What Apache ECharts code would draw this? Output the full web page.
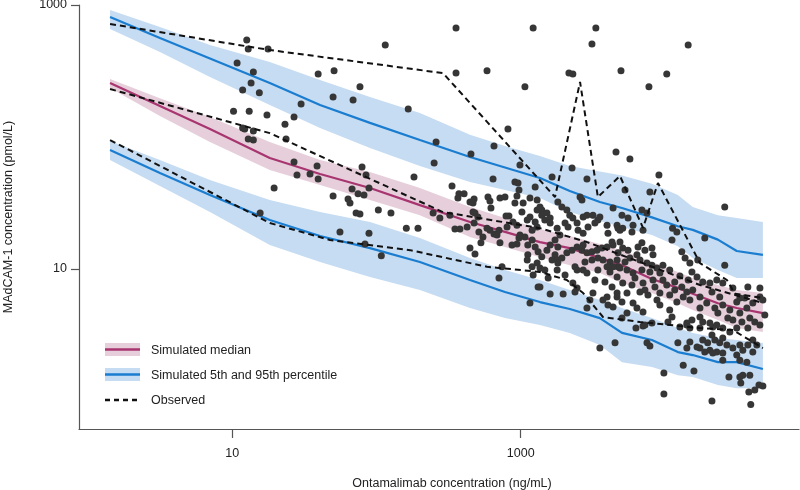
<!DOCTYPE html>
<html><head><meta charset="utf-8">
<script src="https://cdn.jsdelivr.net/npm/echarts@6/dist/echarts.min.js"></script>
<style>html,body{margin:0;padding:0;background:#fff}#c{width:800px;height:490px}</style>
</head><body><div id="c"></div>
<script>
// ---- simulated percentiles (ng/mL vs pmol/L) ----
const simX    = [1.42, 3.15, 7.0, 18.2, 40.6, 90.1, 200, 445, 778, 1360, 2190, 3540, 5040, 8130, 12300, 15600, 23300, 31500, 47800];
const simP95  = [811, 562, 393, 257, 175, 128, 94.9, 70.5, 58.7, 48.9, 39.0, 32.2, 29.0, 24.6, 21.1, 19.8, 16.7, 13.7, 12.8];
const simP95Hi= [916, 681, 498, 370, 270, 201, 152, 104, 85.5, 71.8, 60.3, 54.9, 51.0, 44.3, 36.4, 29.5, 25.6, 24.3, 22.7];
const simP95Lo= [658, 441, 285, 175, 117, 82.6, 60.3, 45.6, 39.7, 34.5, 27.0, 23.1, 20.8, 18.1, 14.9, 12.1, 9.83, 8.55, 8.55];
const simP50  = [257, 172, 115, 69.3, 52.5, 41.1, 30.5, 22.7, 19.1, 16.0, 14.4, 12.1, 10.7, 8.4, 7.2, 6.5, 5.5, 5.07, 4.64];
const simP50Hi= [275, 197, 142, 91.6, 67, 54.3, 41.1, 29.5, 24.3, 20.1, 17.8, 15.5, 13.9, 11.3, 9.49, 8.55, 7.56, 6.93, 6.58];
const simP50Lo= [235, 144, 91.6, 56.2, 43.3, 33.3, 25.6, 17.5, 14.7, 12.3, 10.7, 9.33, 7.83, 6.58, 5.5, 4.89, 4.11, 3.57, 3.33];
const simP5   = [79.7, 53.4, 36.4, 23.5, 17.8, 14.4, 11.3, 8.26, 6.7, 5.62, 4.98, 4.25, 3.28, 2.9, 2.35, 2.23, 1.97, 1.97, 1.75];
const simP5Hi = [93.3, 67, 47.2, 33.3, 27, 22.7, 17.2, 12.1, 9.83, 8.26, 6.93, 5.82, 5.07, 4.25, 3.57, 3.28, 3.0, 2.9, 2.75];
const simP5Lo = [67, 42.6, 27, 15.2, 11.3, 8.7, 6.93, 5.07, 4.25, 3.76, 3.28, 2.66, 1.97, 1.81, 1.57, 1.52, 1.32, 1.25, 1.25];

// ---- observed percentiles ----
const obsHiX = [1.42, 18.2, 289, 1730, 2580, 3430, 4880, 7050, 8950, 17500, 26900, 30600, 47800];
const obsHiY = [718, 456, 305, 35.1, 261, 35.1, 50.7, 20.5, 44.8, 11.1, 8.26, 6.5, 6.03];
const obsMedX = [1.42, 18.2, 289, 1360, 2880, 6710, 17500, 47800];
const obsMedY = [231, 107, 27.0, 20.4, 16.0, 11.3, 7.57, 5.53];
const obsLoX = [1.42, 18.2, 47.6, 171, 584, 1360, 2090, 2710, 3720, 6710, 17500, 29600, 47800];
const obsLoY = [94.9, 22.3, 16.6, 13.9, 10.4, 9.5, 8.26, 6.58, 4.33, 3.97, 3.57, 3.45, 2.52];

// ---- observed individual points ----
const ptsX = [12.6,12.9,17.7,10.8,14.0,13.5,11.8,15.4,10.2,13.1,
17.4,11.8,12.2,14.0,12.9,14.0,356,1220,115,39.4,
50.8,356,584,76.8,1070,50.0,68.8,30.0,166,26.8,
23.2,816,259,653,452,23.6,3320,3120,14500,2160,
2300,4960,10300,7750,4580,5720,15.6,26.8,38.7,79.4,
84.6,28.1,34.6,39.4,19.5,182,251,88.7,67.7,74.5,
81.9,50.0,63.5,65.5,103,72.2,76.8,126,334,373,
405,367,445,475,467,593,612,718,778,622,
912,942,973,912,958,643,988,247,275,323,
350,379,425,482,505,475,513,547,530,612,
653,707,685,718,829,791,884,942,973,870,
942,161,194,55.8,88.7,83.2,108,482,707,742,
1160,1320,1220,1120,1110,1300,1160,1260,1300,1200,
1110,1300,1300,1260,1040,1020,1160,988,1070,1120,
1200,1260,1320,1200,584,804,445,467,1650,2880,
2580,4370,3430,1360,1400,1400,1520,1470,1600,1600,
1810,1930,2090,2190,2300,2460,1790,2030,2130,2710,
2880,3170,3540,3270,2930,2710,2500,3970,4030,4660,
1400,1520,1600,1730,1810,1730,1650,1810,1930,2090,
2270,2460,2660,2710,2880,3120,3380,3660,3970,4370,
2790,3120,3430,3720,4160,4660,4730,1360,1470,1790,
1810,2380,2460,2710,2880,3430,3970,4160,1360,2300,
2460,3170,3970,4660,2270,2660,9090,5290,7870,6930,
7510,5040,5550,6010,4730,5100,7050,5910,11300,12100,
11200,18900,26000,4300,4880,5100,5550,6510,6930,7270,
8130,8270,6400,4730,5290,5720,6710,7510,8130,4370,
4880,5460,6010,6930,7870,8810,9230,9690,10800,13100,
13800,14900,16900,15400,16700,18300,20500,22900,26000,25200,
29600,4660,5100,5910,7050,8270,9690,10300,11700,13100,
14200,15600,5460,6710,7630,9230,10800,37600,45600,1600,
1970,2380,2880,3540,4510,6300,7050,7510,7870,9840,
9840,13400,15900,21200,27800,33600,39400,38200,42000,44900,
47800,33100,38800,3720,4030,4370,4660,5040,6010,6400,
7050,5460,5040,7270,8130,8810,9230,10800,11200,12100,
13400,14900,17500,19500,22200,23300,25200,28200,29600,33100,
37000,38800,40700,33100,45600,47800,42000,18300,20500,17500,
15400,14200,14900,17500,21500,25200,28200,18300,19800,22200,
24000,25200,26900,20500,18900,17500,16700,22900,25200,29600,
33100,34700,31500,33100,37000,40700,43400,37600,14900,14200,
12300,12700,14200,22900,31500,40700,25200,21500,34700,49300,
3840,4300,6200,7270,8530,11700,12700,14500,21200,24000,
31500,35800,27300,34200,45600,37600,21200,1550,2030,3270,
3020,17500,10500,4880,1870];
const ptsY = [543,464,464,364,311,257,227,216,157,157,
147,117,115,111,96.7,94.9,670,670,498,300,
317,306,317,240,240,201,191,178,163,142,
125,115,91.7,85.5,74.4,96.7,670,507,498,306,
300,317,300,240,77.1,68.2,26.6,64.8,60.4,59.3,
51.6,51.6,52.5,48.1,41.1,49.8,63.6,41.1,40.4,37.1,
36.4,35.8,33.9,31.6,28.0,26.6,26.1,26.6,42.6,37.1,
37.1,34.5,32.2,33.9,31.6,35.1,32.7,34.5,35.1,29.0,
31.6,35.8,39.7,45.6,44.9,48.1,61.4,26.6,24.3,25.6,
20.1,20.1,20.8,26.6,24.8,22.3,19.1,17.5,15.8,19.7,
18.4,19.7,18.1,15.8,25.2,25.2,22.7,21.5,17.2,15.2,
15.5,20.4,20.4,19.1,18.7,15.5,12.6,13.0,8.56,10.4,
5.53,7.31,9.01,12.8,11.7,11.1,24.8,22.7,20.8,19.7,
23.5,28.0,33.3,41.9,31.6,27.0,34.5,18.1,17.5,15.2,
16.6,14.7,13.5,10.4,20.4,20.8,14.4,27.0,49.8,48.1,
35.1,29.0,23.5,29.5,28.0,25.6,26.6,23.5,24.3,22.3,
32.2,29.5,28.0,25.6,24.3,22.3,20.4,22.3,20.8,24.8,
25.6,25.6,24.8,22.3,20.8,18.7,19.7,21.5,18.7,21.5,
12.4,13.9,15.2,16.6,14.7,12.8,11.7,11.7,12.1,13.3,
13.9,14.7,13.9,15.2,13.3,13.5,13.9,14.4,14.7,15.2,
11.3,11.7,12.1,11.7,11.3,11.7,10.4,10.2,9.83,9.83,
11.1,10.4,9.83,9.83,9.34,9.83,10.4,9.5,7.31,7.85,
7.18,6.58,6.14,6.58,58.3,33.3,51.6,39.7,38.4,28.0,
26.6,25.6,24.3,21.5,20.4,20.4,19.7,19.1,20.4,19.1,
16.6,17.2,29.5,16.0,16.0,14.4,13.9,14.7,15.8,13.9,
14.4,12.8,12.8,13.3,11.3,12.1,11.7,11.1,10.7,10.4,
10.2,9.83,9.34,9.83,9.5,10.2,9.34,10.7,9.83,13.5,
12.1,11.1,11.7,9.5,8.71,7.98,7.85,8.26,10.7,7.85,
7.18,8.71,7.85,7.57,7.85,8.26,8.26,7.57,7.98,7.31,
6.70,6.93,6.58,6.70,6.35,6.58,6.35,7.31,7.18,6.46,
6.46,6.70,5.07,2.52,2.76,3.57,3.70,2.76,2.61,1.63,
1.13,1.87,1.69,1.00,1.52,1.37,0.94,1.17,1.21,1.32,
1.30,1.52,1.57,5.82,5.34,5.16,6.14,5.63,5.53,5.07,
4.73,4.64,4.26,3.76,3.90,5.82,5.34,4.89,4.33,5.63,
6.14,5.82,6.14,5.53,5.07,4.64,5.34,4.89,4.11,4.64,
5.07,4.26,5.53,6.03,6.14,5.82,3.97,3.97,3.90,4.33,
4.11,3.90,3.57,3.57,3.64,3.57,3.33,2.90,2.76,2.90,
2.76,3.00,2.66,2.43,2.35,2.52,2.57,2.35,2.31,2.52,
2.66,2.43,2.23,2.04,1.97,2.35,2.66,2.66,2.80,2.52,
2.76,3.64,3.76,3.76,3.57,2.90,2.04,2.31,1.57,4.48,
7.98,7.31,8.56,6.93,7.31,6.93,8.86,8.26,6.70,6.14,
5.63,6.03,4.26,3.97,3.76,3.57,3.16,8.56,9.01,8.26,
5.82,5.07,3.97,19.7,18.1];

const xTicks = [10, 1000];
const yTicks = [10, 1000];
const legendLabels = ['Simulated median', 'Simulated 5th and 95th percentile', 'Observed'];

const FONT = 'Liberation Sans, Arial, Helvetica, sans-serif';
const TXT = '#222';
const AX = '#555';
const BLUE = '#1a7dd0', BLUEBAND = '#c6dcf2';
const MAG = '#a83570', PINKBAND = '#e6cfdb';
const PT = '#363636';

function band(lo, hi, color) {
  return {
    type: 'custom', silent: true, z: 1, clip: true,
    data: simX.map((x, i) => [x, lo[i], hi[i]]),
    encode: { x: 0, y: [1, 2] },
    renderItem: function (params, api) {
      if (params.dataIndex !== 0) return null;
      const top = simX.map((x, i) => api.coord([x, hi[i]]));
      const bot = simX.map((x, i) => api.coord([x, lo[i]])).reverse();
      return { type: 'polygon', shape: { points: top.concat(bot) }, style: { fill: color } };
    }
  };
}
function simLine(ys, color) {
  return { type: 'line', z: 2, silent: true, showSymbol: false, symbol: 'none',
    data: simX.map((x, i) => [x, ys[i]]), lineStyle: { color: color, width: 2.2 } };
}
function obsLine(xs, ys) {
  return { type: 'line', z: 4, silent: true, showSymbol: false, symbol: 'none',
    data: xs.map((x, i) => [x, ys[i]]), lineStyle: { color: '#111', width: 2, type: [6, 4] } };
}

const chart = echarts.init(document.getElementById('c'), null, { renderer: 'canvas' });
const axisCommon = {
  type: 'log', logBase: 10,
  axisLine: { show: true, onZero: false, lineStyle: { color: AX, width: 1.2 } },
  splitLine: { show: false }, minorTick: { show: false }, minorSplitLine: { show: false },
  nameLocation: 'middle',
  nameTextStyle: { fontFamily: FONT, fontSize: 12.5, color: TXT }
};
chart.setOption({
  animation: false,
  backgroundColor: '#fff',
  grid: { left: 79, right: 1, top: 5, bottom: 61, containLabel: false, outerBoundsMode: 'none' },
  xAxis: Object.assign({}, axisCommon, {
    min: 0.865, max: 85100,
    axisTick: { show: true, length: 9, customValues: xTicks, lineStyle: { color: AX, width: 1.2 } },
    axisLabel: { customValues: xTicks, margin: 18, fontFamily: FONT, fontSize: 12.5, color: TXT,
      formatter: v => String(Math.round(v)) },
    name: 'Ontamalimab concentration (ng/mL)', nameGap: 48,
    nameTextStyle: { fontFamily: FONT, fontSize: 12.5, color: TXT, padding: [0, 0, 0, 26] }
  }),
  yAxis: Object.assign({}, axisCommon, {
    min: 0.614, max: 1000,
    axisTick: { show: true, length: 8, customValues: yTicks, lineStyle: { color: AX, width: 1.2 } },
    axisLabel: { customValues: yTicks, margin: 12, fontFamily: FONT, fontSize: 12.5, color: TXT,
      formatter: v => String(Math.round(v)) },
    name: 'MAdCAM-1 concentration (pmol/L)', nameGap: 64
  }),
  series: [
    band(simP95Lo, simP95Hi, BLUEBAND),
    band(simP5Lo, simP5Hi, BLUEBAND),
    band(simP50Lo, simP50Hi, PINKBAND),
    simLine(simP95, BLUE),
    simLine(simP5, BLUE),
    simLine(simP50, MAG),
    { type: 'scatter', z: 3, silent: true, symbol: 'circle', symbolSize: 7,
      itemStyle: { color: PT, opacity: 1 }, data: ptsX.map((x, i) => [x, ptsY[i]]) },
    obsLine(obsHiX, obsHiY),
    obsLine(obsMedX, obsMedY),
    obsLine(obsLoX, obsLoY)
  ],
  graphic: [
    { type: 'rect', shape: { x: 105, y: 343, width: 35, height: 13 }, style: { fill: PINKBAND } },
    { type: 'line', shape: { x1: 105, y1: 349.5, x2: 140, y2: 349.5 }, style: { stroke: MAG, lineWidth: 2.5 } },
    { type: 'text', x: 151, y: 350.5, style: { text: legendLabels[0], fontFamily: FONT, fontSize: 12.5, fill: TXT, verticalAlign: 'middle' } },
    { type: 'rect', shape: { x: 105, y: 368, width: 35, height: 13 }, style: { fill: BLUEBAND } },
    { type: 'line', shape: { x1: 105, y1: 374.5, x2: 140, y2: 374.5 }, style: { stroke: BLUE, lineWidth: 2.5 } },
    { type: 'text', x: 151, y: 375.5, style: { text: legendLabels[1], fontFamily: FONT, fontSize: 12.5, fill: TXT, verticalAlign: 'middle' } },
    { type: 'line', shape: { x1: 105, y1: 400, x2: 140, y2: 400 }, style: { stroke: '#111', lineWidth: 2.5, lineDash: [5, 4] } },
    { type: 'text', x: 151, y: 401, style: { text: legendLabels[2], fontFamily: FONT, fontSize: 12.5, fill: TXT, verticalAlign: 'middle' } }
  ]
});
</script>
</body></html>
